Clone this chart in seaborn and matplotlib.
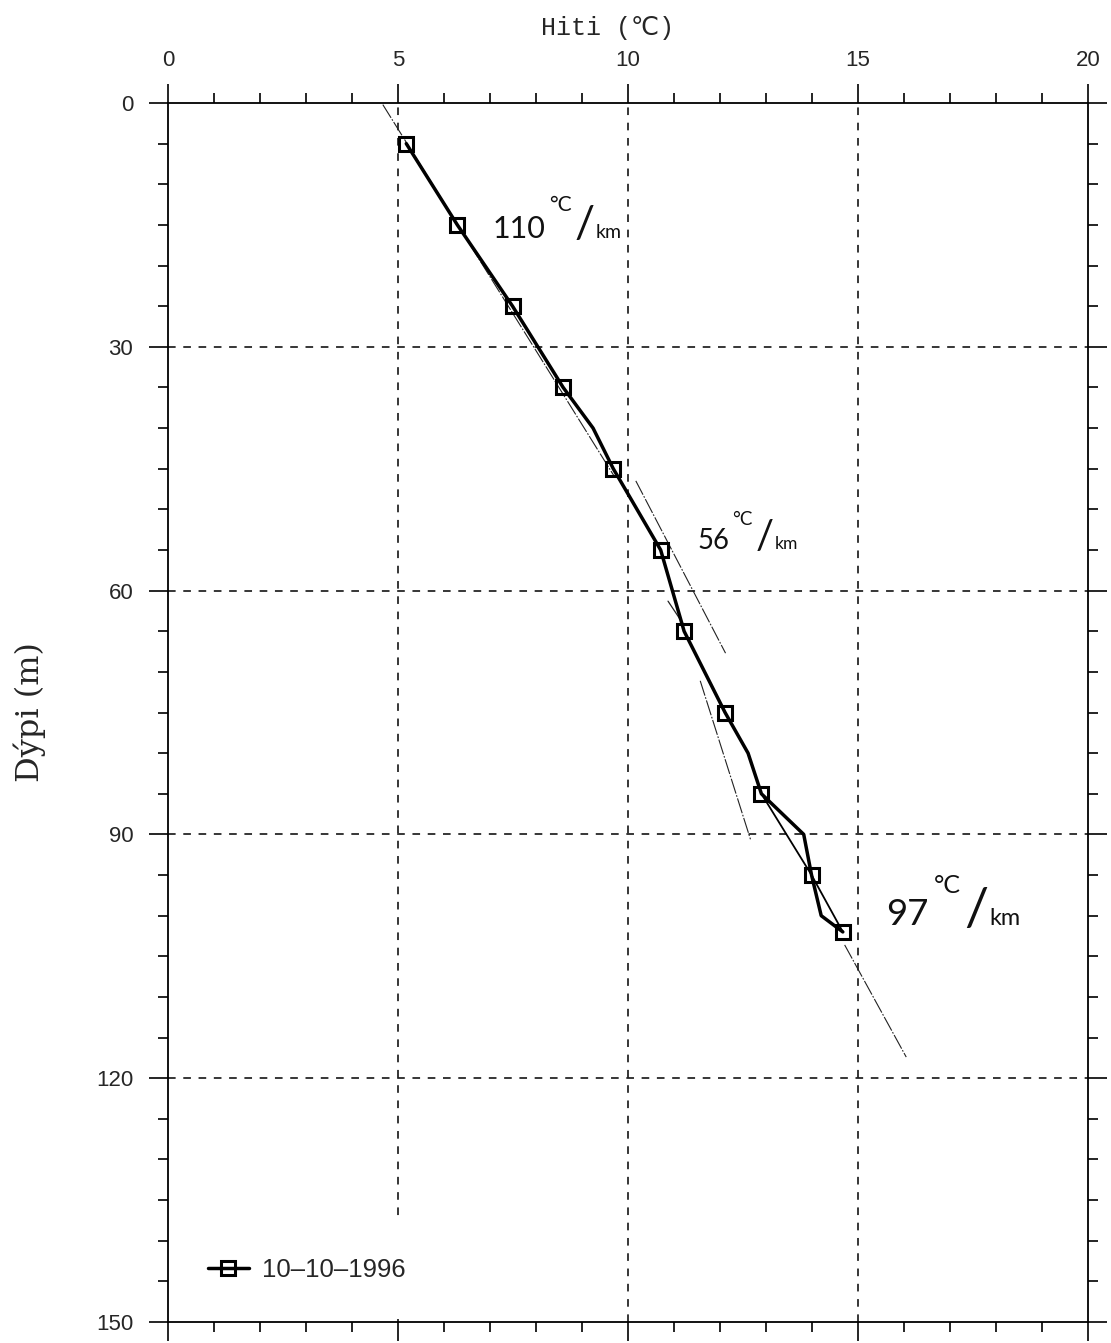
import numpy as np
import pandas as pd
import matplotlib
matplotlib.use("Agg")
import matplotlib.pyplot as plt
from matplotlib.lines import Line2D
from matplotlib.ticker import MultipleLocator
import seaborn as sns

# Temperature log (continuous trace)
profile_depth = [5, 15, 25, 35, 40, 45, 55, 65, 75, 80, 85, 90, 95, 100, 102]
profile_temp = [5.18, 6.29, 7.49, 8.59, 9.24, 9.68, 10.71, 11.22, 12.11,
                12.61, 12.90, 13.82, 13.99, 14.20, 14.67]

# Readings marked on the trace
reading_depth = [5, 15, 25, 35, 45, 55, 65, 75, 85, 95, 102]
reading_temp = [5.18, 6.29, 7.49, 8.59, 9.68, 10.71, 11.22, 12.11, 12.90, 13.99, 14.67]

# Straight link between the deepest readings
link_depth = [85, 95, 102]
link_temp = [12.90, 13.99, 14.67]

# Fitted gradient lines (°C/km)
grad_start_temp = [4.67, 10.17, 11.57, 14.71]
grad_start_depth = [0.2, 46.5, 71.1, 103.6]
grad_end_depth = [46.0, 67.7, 90.6, 117.4]
grad_value = [110, 92, 56, 97]

# short pencil stroke above the 56 °C/km line
stroke_temp = [10.87, 11.20]
stroke_depth = [61.3, 64.1]

# gradient annotations: text, anchor temperature, anchor depth, size scale
note_text = ["110", "56", "97"]
note_temp = [7.05, 11.50, 15.62]
note_depth = [16.6, 54.9, 101.2]
note_scale = [1.0, 0.9, 1.2]

legend_label = "10\u201310\u20131996"

sns.set_theme(style="white")
plt.rcParams["font.family"] = ["Liberation Sans", "DejaVu Sans"]

fig = plt.figure(figsize=(11.11, 13.43), dpi=100)
ax = fig.add_axes([168 / 1111, 1 - 1322 / 1343, 920 / 1111, 1219 / 1343])
ax.set_facecolor("white")

grid_style = dict(color="black", linestyle=(0, (5, 5)), linewidth=1.1)
for t in [5, 10, 15]:
    ax.axvline(t, zorder=1, **grid_style)
for d in [30, 60, 90, 120]:
    ax.axhline(d, zorder=1, **grid_style)

thin = dict(color="#222222", linewidth=0.8, linestyle=(0, (14, 1.5, 1.5, 1.5)))
for t0, z0, z1, g in zip(grad_start_temp, grad_start_depth, grad_end_depth, grad_value):
    seg = pd.DataFrame({"temp": [t0, t0 + g / 1000 * (z1 - z0)], "depth": [z0, z1]})
    sns.lineplot(data=seg, x="temp", y="depth", sort=False, estimator=None,
                 ax=ax, zorder=2, **thin)
sns.lineplot(x=stroke_temp, y=stroke_depth, sort=False, estimator=None, ax=ax,
             color="#222222", linewidth=0.9, zorder=2)

sns.lineplot(x=link_temp, y=link_depth, sort=False, estimator=None, ax=ax,
             color="black", linewidth=1.3, zorder=3)
sns.lineplot(x=profile_temp, y=profile_depth, sort=False, estimator=None, ax=ax,
             color="black", linewidth=2.5, zorder=4)
ax.plot(reading_temp, reading_depth, linestyle="none", marker="s", markersize=10,
        markerfacecolor="none", markeredgecolor="black", markeredgewidth=2.2, zorder=5)

ax.set_xlim(0, 20)
ax.set_ylim(150, 0)

# handwritten-style gradient labels, pieces laid out left to right
hand = dict(family=["Lato", "DejaVu Sans"], weight="normal", color="#111111")
px = 72 / 100.0
renderer = fig.canvas.get_renderer()
for txt, t, z, s in zip(note_text, note_temp, note_depth, note_scale):
    cursor = 0.0
    num = ax.annotate(txt, xy=(t, z), xytext=(0, 0), textcoords="offset points",
                      ha="left", va="baseline", fontsize=22 * s, **hand)
    cursor += num.get_window_extent(renderer).width + 4 * s
    deg = ax.annotate("\u00b0C", xy=(t, z), xytext=(cursor * px, 27 * s * px),
                      textcoords="offset points", ha="left", va="baseline",
                      fontsize=15 * s, **hand)
    cursor += deg.get_window_extent(renderer).width + 3 * s
    sl = ax.annotate("/", xy=(t, z), xytext=(cursor * px, 0),
                     textcoords="offset points", ha="left", va="baseline",
                     fontsize=32 * s, **hand)
    cursor += sl.get_window_extent(renderer).width + 1 * s
    ax.annotate("km", xy=(t, z), xytext=(cursor * px, 0),
                textcoords="offset points", ha="left", va="baseline",
                fontsize=14 * s, **hand)

ax.xaxis.tick_top()
ax.xaxis.set_major_locator(MultipleLocator(5))
ax.xaxis.set_minor_locator(MultipleLocator(1))
ax.yaxis.set_major_locator(MultipleLocator(30))
ax.yaxis.set_minor_locator(MultipleLocator(5))
ax.tick_params(which="both", direction="out", top=True, bottom=True, left=True,
               right=True, labeltop=True, labelbottom=False, labelleft=True,
               labelright=False, color="black", width=1.2)
ax.tick_params(which="major", length=14, labelsize=16)
ax.tick_params(which="minor", length=7)
ax.tick_params(axis="x", which="major", pad=9)
ax.tick_params(axis="y", which="major", pad=11)
for sp in ax.spines.values():
    sp.set_visible(True)
    sp.set_color("black")
    sp.set_linewidth(1.3)
    sp.set_zorder(7)

ax.set_xlabel("Hiti (\u2103)", fontsize=18,
              family=["Liberation Mono", "DejaVu Sans Mono", "DejaVu Sans"])
ax.xaxis.set_label_position("top")
ax.xaxis.set_label_coords(0.478, 1.056)
ax.set_ylabel("D\u00fdpi (m)", fontsize=23, family=["DejaVu Serif"])
ax.yaxis.set_label_coords(-0.133, 0.5)

handle = Line2D([], [], color="black", linewidth=2.5, marker="s", markersize=10,
                markerfacecolor="none", markeredgecolor="black", markeredgewidth=2.2)
leg = ax.legend([handle], [legend_label], loc="lower left", bbox_to_anchor=(0, 0),
                borderaxespad=0.1, borderpad=1.45, handlelength=1.6, handletextpad=0.5,
                fontsize=18.5, frameon=True, fancybox=False)
leg.get_frame().set_facecolor("white")
leg.get_frame().set_edgecolor("none")
leg.get_frame().set_alpha(1)
leg.set_zorder(6)

fig.savefig("out.png", dpi=100, facecolor="white")
